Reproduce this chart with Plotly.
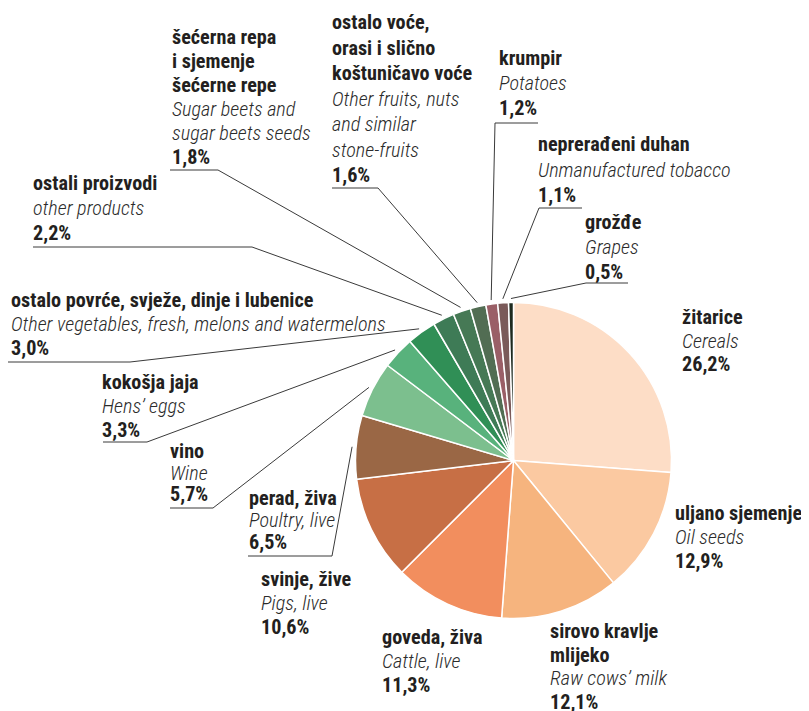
import math
import plotly.graph_objects as go

# ---------------- data ----------------
names_hr = [
    ["žitarice"],
    ["uljano sjemenje"],
    ["sirovo kravlje", "mlijeko"],
    ["goveda, živa"],
    ["svinje, žive"],
    ["perad, živa"],
    ["vino"],
    ["kokošja jaja"],
    ["ostalo povrće, svježe, dinje i lubenice"],
    ["ostali proizvodi"],
    ["šećerna repa", "i sjemenje", "šećerne repe"],
    ["ostalo voće,", "orasi i slično", "koštuničavo voće"],
    ["krumpir"],
    ["neprerađeni duhan"],
    ["grožđe"],
]
names_en = [
    ["Cereals"],
    ["Oil seeds"],
    ["Raw cows’ milk"],
    ["Cattle, live"],
    ["Pigs, live"],
    ["Poultry, live"],
    ["Wine"],
    ["Hens’ eggs"],
    ["Other vegetables, fresh, melons and watermelons"],
    ["other products"],
    ["Sugar beets and", "sugar beets seeds"],
    ["Other fruits, nuts", "and similar", "stone-fruits"],
    ["Potatoes"],
    ["Unmanufactured tobacco"],
    ["Grapes"],
]
shares = [26.2, 12.9, 12.1, 11.3, 10.6, 6.5, 5.7, 3.3, 3.0, 2.2, 1.8, 1.6, 1.2, 1.1, 0.5]

colors = ["#FDDDC6", "#FBC9A1", "#F6B47E", "#F28E5E", "#C76F45", "#9A6745",
          "#7CBF8E", "#58B27C", "#308F56", "#3E7B56", "#467955", "#526D53",
          "#9A5F67", "#7A5A59", "#1E2A1F"]

# ---------------- layout ----------------
W, H = 809, 711          # window size
OFF = 8                  # page body margin
CX, CY, R = 513.5, 460.5, 158.0

# label block: left x, first-line y, line spacing (window pixels)
label_pos = [
    (682, 317, 23.5), (675, 513, 24), (550, 631, 23.7), (382, 637, 24),
    (261, 579, 24), (249, 498, 22), (170, 451, 21.5), (102, 382, 24),
    (11, 300, 24), (33, 183, 25), (172, 37, 24), (332, 22, 25.5),
    (499, 58, 25), (538, 144, 25.5), (585, 222, 25),
]
# leader underline: index -> (x_left, x_right, y, which end joins the pie)
leaders = {
    5: (248, 332, 556, "right"),
    6: (170, 213, 508, "right"),
    7: (103, 147, 442, "right"),
    8: (8, 130, 362, "right"),
    9: (33, 252, 247, "right"),
    10: (170, 218, 170, "right"),
    11: (332, 378, 188, "right"),
    12: (495, 538, 123, "left"),
    13: (539, 582, 208, "left"),
    14: (586, 628, 283, "left"),
}

FONT = "Roboto Condensed, Arial Narrow, Liberation Sans Narrow, sans-serif"
TXT = "#231F20"
FW, FH = W - OFF, H - OFF

fig = go.Figure()

fig.add_trace(go.Pie(
    values=shares,
    labels=[" ".join(n) for n in names_hr],
    sort=False, direction="clockwise", rotation=0,
    marker=dict(colors=colors, line=dict(color="white", width=1.5)),
    textinfo="none", hoverinfo="label+percent", showlegend=False,
    domain=dict(x=[(CX - R - OFF) / FW, (CX + R - OFF) / FW],
                y=[1 - (CY + R - OFF) / FH, 1 - (CY - R - OFF) / FH]),
))

# leader lines computed from slice mid-angles
total = sum(shares)
cum = 0.0
mids = []
for v in shares:
    mids.append(2 * math.pi * (cum + v / 2) / total)
    cum += v

for i, (xl, xr, yy, end) in leaders.items():
    a = mids[i]
    px = CX + (R + 4) * math.sin(a)
    py = CY - (R + 4) * math.cos(a)
    if end == "right":
        xs, ys = [xl, xr, px], [yy, yy, py]
    else:
        xs, ys = [xr, xl, px], [yy, yy, py]
    fig.add_trace(go.Scatter(x=xs, y=ys, mode="lines", line=dict(color="#3a3a3a", width=1),
                             hoverinfo="skip", showlegend=False))

ann = []
for i, (x0, y0, dy) in enumerate(label_pos):
    lines = [(t, "b") for t in names_hr[i]] + [(t, "i") for t in names_en[i]] + \
            [(f"{shares[i]:.1f}".replace(".", ",") + "%", "b")]
    for k, (t, st) in enumerate(lines):
        if st == "b":
            font = dict(family=FONT, size=20.2, color=TXT, weight=700)
        else:
            font = dict(family=FONT, size=20.2, color="#2b2b2b", weight=300, style="italic")
        ann.append(dict(x=x0, y=y0 + k * dy, xref="x", yref="y", text=t, showarrow=False,
                        xanchor="left", yanchor="middle", borderpad=0, borderwidth=0, font=font))

fig.update_layout(
    width=FW, height=FH, margin=dict(l=0, r=0, t=0, b=0),
    paper_bgcolor="white", plot_bgcolor="rgba(0,0,0,0)",
    xaxis=dict(range=[OFF, W], visible=False, fixedrange=True),
    yaxis=dict(range=[H, OFF], visible=False, fixedrange=True),
    annotations=ann, showlegend=False,
)
fig.write_html("out.html")
